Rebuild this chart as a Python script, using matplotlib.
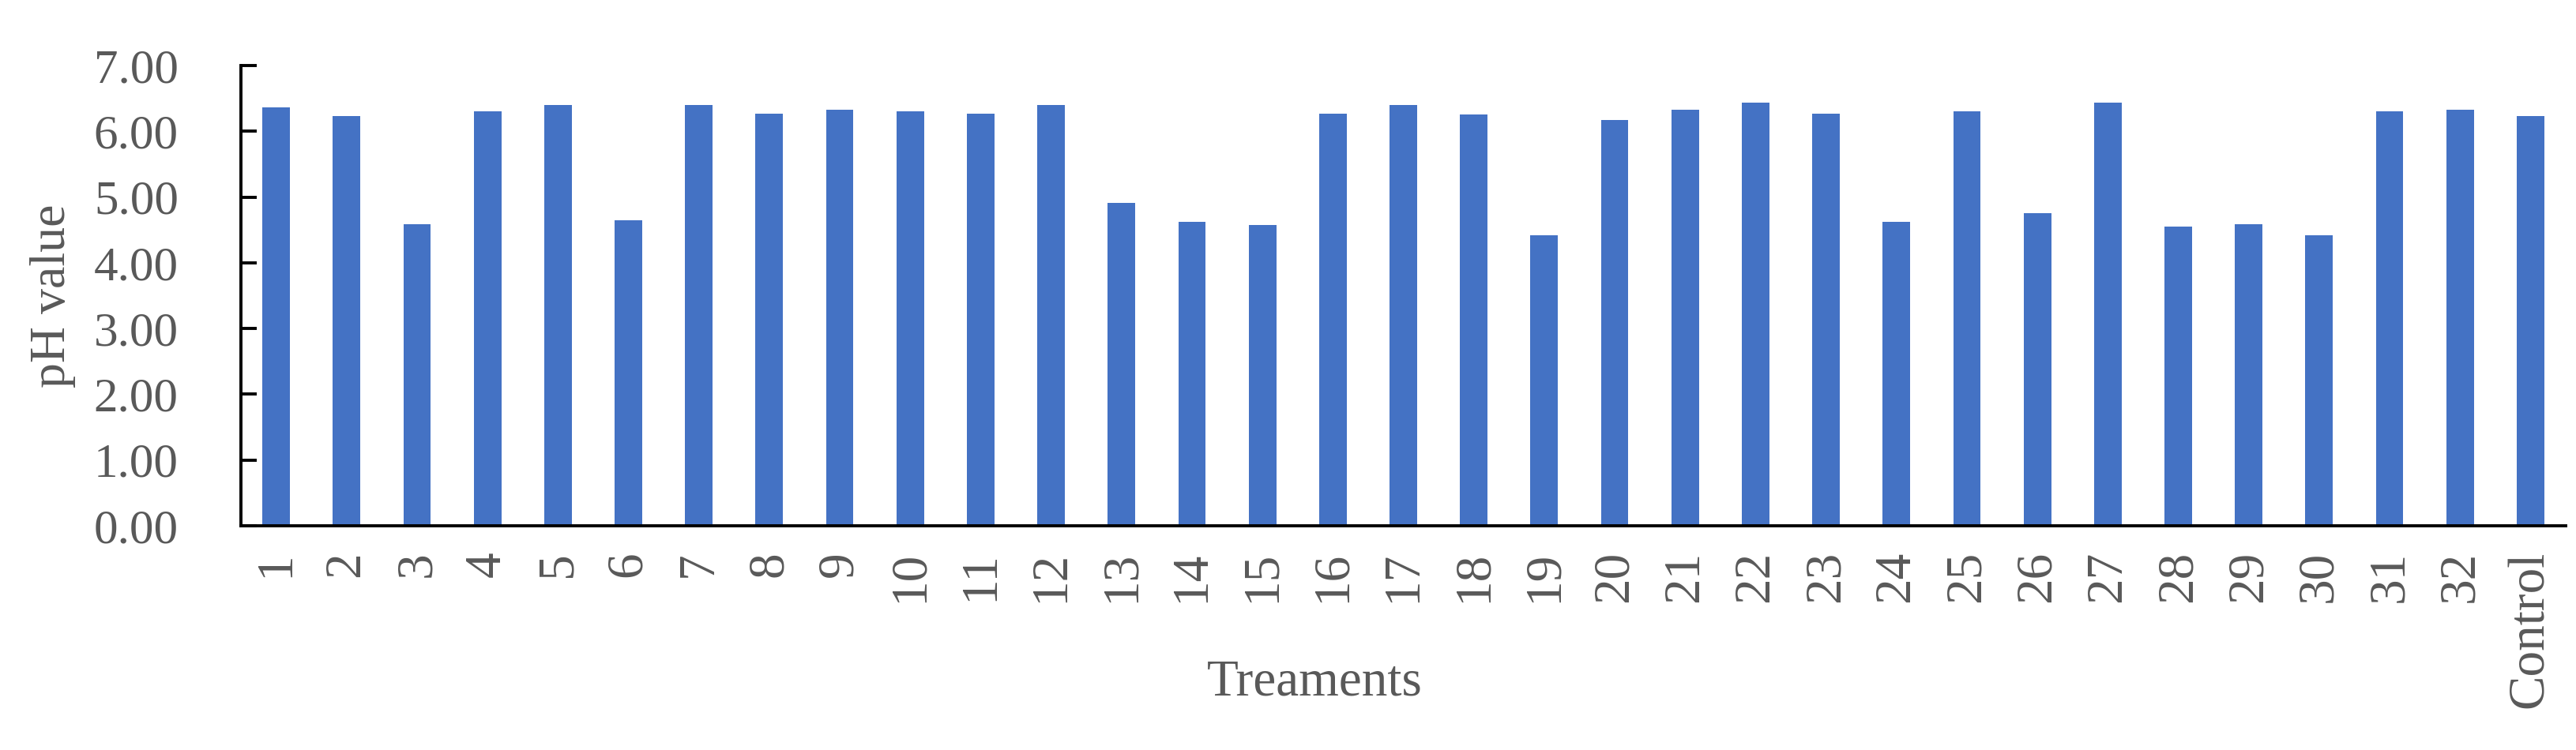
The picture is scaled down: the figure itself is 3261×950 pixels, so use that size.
import numpy as np
import matplotlib
matplotlib.use("Agg")
import matplotlib.pyplot as plt

treatments = [str(i) for i in range(1, 33)] + ["Control"]
ph_values = [6.36, 6.23, 4.59, 6.30, 6.40, 4.65, 6.40, 6.27, 6.33, 6.30, 6.27, 6.40,
             4.91, 4.62, 4.58, 6.27, 6.40, 6.26, 4.42, 6.17, 6.33, 6.43, 6.27,
             4.62, 6.30, 4.75, 6.43, 4.55, 4.59, 4.42, 6.30, 6.33, 6.23]
y_ticks = [0, 1, 2, 3, 4, 5, 6, 7]

plt.rcParams['font.family'] = ['Liberation Serif', 'DejaVu Serif']
grey = '#595959'

fig = plt.figure(figsize=(32.62, 9.5), dpi=100)
ax = fig.add_axes([305/3262, 1 - 666/950, (3248-305)/3262, (666-83)/950])

x = np.arange(len(treatments))
ax.bar(x, ph_values, width=0.39, color='#4472C4')

ax.set_xlim(-0.5, len(treatments) - 0.5)
ax.set_ylim(0, 7)
ax.set_yticks(y_ticks)
ax.set_yticklabels(['%.2f' % v for v in y_ticks])
ax.set_xticks(x)
ax.set_xticklabels(treatments, rotation=90)

for s in ['top', 'right']:
    ax.spines[s].set_visible(False)
for s in ['left', 'bottom']:
    ax.spines[s].set_linewidth(2.8)
    ax.spines[s].set_color('black')
    ax.spines[s].set_capstyle('projecting')

ax.tick_params(axis='y', direction='in', length=14.5, width=2.8, labelsize=44,
               labelcolor=grey, pad=57)
ax.tick_params(axis='x', length=0, labelsize=47, labelcolor=grey, pad=23)

ax.set_ylabel('pH value', fontsize=46, color=grey)
ax.yaxis.set_label_coords(-0.071, 0.5)
ax.set_xlabel('Treaments', fontsize=47, color=grey)
ax.xaxis.set_label_coords(0.462, -0.29)

fig.savefig('out.png', dpi=100)
